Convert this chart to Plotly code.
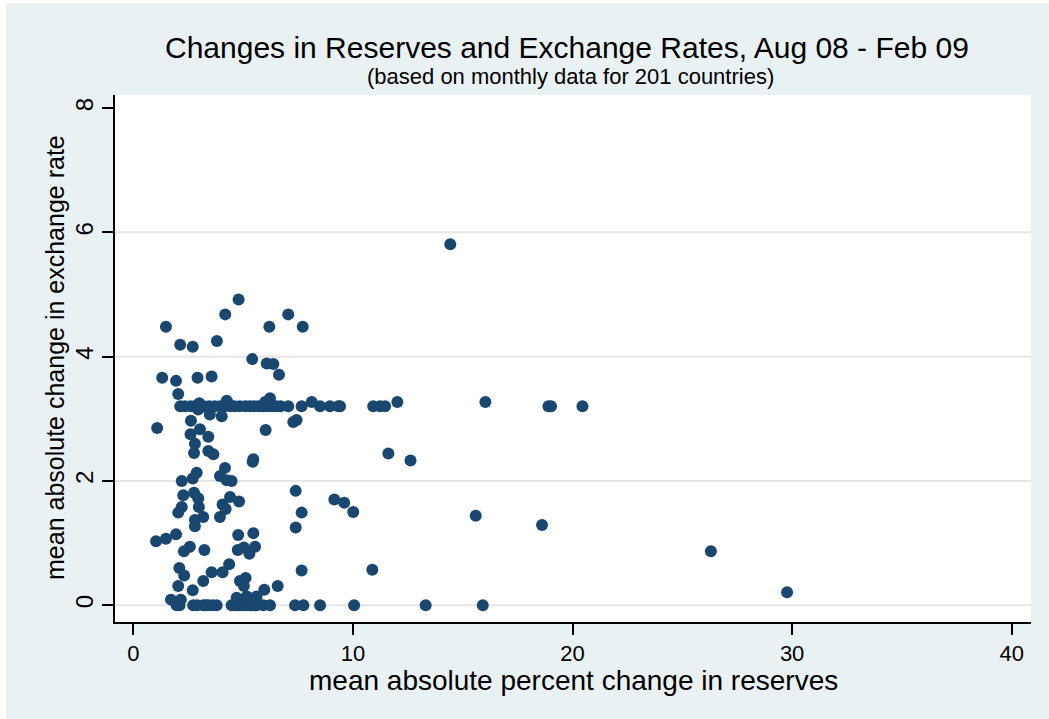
import plotly.graph_objects as go

# ---------------- data ----------------
upper_x = [4.79, 4.18, 7.05, 1.48, 6.19, 7.71, 2.13, 2.70, 3.80, 5.41, 6.07, 6.37, 6.63, 1.31, 1.94, 2.92, 3.56, 2.04, 14.43]
upper_y = [4.92, 4.68, 4.68, 4.48, 4.48, 4.48, 4.19, 4.16, 4.25, 3.96, 3.89, 3.88, 3.71, 3.66, 3.61, 3.66, 3.68, 3.40, 5.81]

band_x = [2.13, 2.35, 2.6, 2.8, 3.0, 3.2, 3.45, 3.7, 3.95, 4.15, 4.4, 4.6, 4.85, 5.1, 5.3, 5.5, 5.7, 5.9,
          6.1, 6.3, 6.5, 6.7, 7.05, 7.66, 8.5, 8.95, 9.33, 9.41, 10.92, 11.23, 11.46, 18.9, 19.02, 20.45,
          4.25, 6.22, 8.12, 12.02, 16.03, 3.0, 4.3, 6.0]
band_y = [3.2, 3.2, 3.2, 3.2, 3.2, 3.2, 3.2, 3.2, 3.2, 3.2, 3.2, 3.2, 3.2, 3.2, 3.2, 3.2, 3.2, 3.2,
          3.2, 3.2, 3.2, 3.2, 3.2, 3.2, 3.2, 3.2, 3.2, 3.2, 3.2, 3.2, 3.2, 3.2, 3.2, 3.2,
          3.29, 3.33, 3.27, 3.27, 3.27, 3.25, 3.25, 3.27]

lower_x = [2.95, 3.48, 4.02, 2.62, 1.08, 6.02, 7.28, 7.43, 2.6, 3.03, 3.41, 2.8, 2.76, 3.41, 3.64, 5.46, 5.43,
           11.61, 12.62, 4.17, 2.88, 2.70, 2.2, 3.94, 4.25, 4.47, 7.39, 2.27, 2.76, 2.95, 4.40, 4.81, 9.15,
           9.6, 10.01, 2.2, 2.04, 2.98, 4.06, 4.2, 7.66, 3.18, 2.8, 2.8, 3.94, 7.39, 15.59, 18.61, 1.94,
           1.48, 1.03, 4.77, 5.46, 2.57, 2.3, 3.23, 4.75, 5.03, 5.28, 5.54, 26.3, 2.09, 2.31, 4.36, 4.06,
           3.56, 7.66, 10.88, 3.18, 2.04, 2.70, 4.85, 5.11, 5.03, 5.96, 6.57, 29.77, 1.71, 2.16, 1.97,
           4.70, 5.16, 5.61]
lower_y = [3.15, 3.07, 3.04, 2.97, 2.85, 2.82, 2.95, 2.98, 2.75, 2.83, 2.71, 2.6, 2.45, 2.48, 2.43, 2.35, 2.31,
           2.44, 2.33, 2.21, 2.13, 2.04, 2.0, 2.08, 2.01, 2.0, 1.84, 1.77, 1.81, 1.72, 1.74, 1.67, 1.70,
           1.65, 1.50, 1.58, 1.49, 1.58, 1.62, 1.55, 1.49, 1.42, 1.37, 1.27, 1.42, 1.25, 1.44, 1.29, 1.14,
           1.07, 1.03, 1.13, 1.16, 0.94, 0.87, 0.89, 0.89, 0.93, 0.83, 0.94, 0.87, 0.60, 0.48, 0.66, 0.53,
           0.53, 0.56, 0.57, 0.39, 0.31, 0.24, 0.39, 0.44, 0.31, 0.25, 0.31, 0.21, 0.09, 0.09, 0.03,
           0.12, 0.14, 0.14]

zero_x = [1.97, 2.1, 2.72, 2.9, 3.18, 3.3, 3.41, 3.6, 3.79, 4.47, 4.62, 4.7, 4.85, 5.0, 5.16, 5.3, 5.38,
          5.5, 5.61, 5.91, 6.22, 7.36, 7.74, 8.5, 10.05, 13.31, 15.91]
zero_y = [0.0] * len(zero_x)

x_ticks = [0, 10, 20, 30, 40]
y_ticks = [0, 2, 4, 6, 8]
grid_y = [0, 2, 4, 6]

title_text = "Changes in Reserves and Exchange Rates, Aug 08 - Feb 09"
subtitle_text = "(based on monthly data for 201 countries)"
x_title = "mean absolute percent change in reserves"
y_title = "mean absolute change in exchange rate"

xs = upper_x + band_x + lower_x + zero_x
ys = upper_y + band_y + lower_y + zero_y

# ---------------- figure ----------------
W, H = 1049, 719
ML, MR, MT, MB = 115, 18, 95, 97
PW, PH = W - ML - MR, H - MT - MB
FONT = "Liberation Sans, Arial, sans-serif"
BG = "#eaf1f3"
NAVY = "#1a476f"


def px(xpix):
    return (xpix - ML) / PW


def py(ypix):
    return (H - MB - ypix) / PH


fig = go.Figure()
fig.add_trace(go.Scatter(
    x=xs, y=ys, mode="markers",
    marker=dict(color=NAVY, size=12, line=dict(width=0)),
    showlegend=False, hoverinfo="x+y",
))

shapes = []
for g in grid_y:
    shapes.append(dict(type="line", xref="paper", yref="y", x0=0, x1=1, y0=g, y1=g,
                       line=dict(color="#e6e6e6", width=2), layer="below"))
# thin white border at left and top of the image
shapes.append(dict(type="rect", xref="paper", yref="paper", x0=px(0), x1=px(6), y0=py(H), y1=py(0),
                   fillcolor="white", line=dict(width=0), layer="above"))
shapes.append(dict(type="rect", xref="paper", yref="paper", x0=px(0), x1=px(W), y0=py(3), y1=py(0),
                   fillcolor="white", line=dict(width=0), layer="above"))

annotations = [
    dict(text=title_text, x=px(567), y=py(47), xref="paper", yref="paper", showarrow=False,
         xanchor="center", yanchor="middle", font=dict(family=FONT, size=30, color="#000000")),
    dict(text=subtitle_text, x=px(570), y=py(77), xref="paper", yref="paper", showarrow=False,
         xanchor="center", yanchor="middle", font=dict(family=FONT, size=22, color="#000000")),
    dict(text=x_title, x=px(573), y=py(680), xref="paper", yref="paper", showarrow=False,
         xanchor="center", yanchor="middle", font=dict(family=FONT, size=28, color="#000000")),
    dict(text=y_title, x=px(55), y=py(358), xref="paper", yref="paper", showarrow=False,
         textangle=-90, xanchor="center", yanchor="middle",
         font=dict(family=FONT, size=25, color="#000000")),
]

fig.update_layout(
    width=W, height=H, autosize=False,
    margin=dict(l=ML, r=MR, t=MT, b=MB, pad=0),
    paper_bgcolor=BG, plot_bgcolor="white",
    font=dict(family=FONT, color="#000000"),
    shapes=shapes, annotations=annotations,
    xaxis=dict(range=[-0.84, 40.88], tickvals=x_ticks, ticktext=[str(v) for v in x_ticks],
               showgrid=False, zeroline=False, showline=True, linecolor="#000000", linewidth=1.5,
               ticks="outside", ticklen=11, tickwidth=1.5, tickcolor="#000000",
               tickfont=dict(family=FONT, size=22, color="#000000"), fixedrange=True),
    yaxis=dict(range=[-0.27, 8.21], tickvals=y_ticks, ticktext=[str(v) for v in y_ticks],
               showgrid=False, zeroline=False, showline=True, linecolor="#000000", linewidth=1.5,
               ticks="outside", ticklen=11, tickwidth=1.5, tickcolor="#000000", tickangle=-90,
               tickfont=dict(family=FONT, size=24, color="#000000"), fixedrange=True),
)

fig.write_html("out.html")
